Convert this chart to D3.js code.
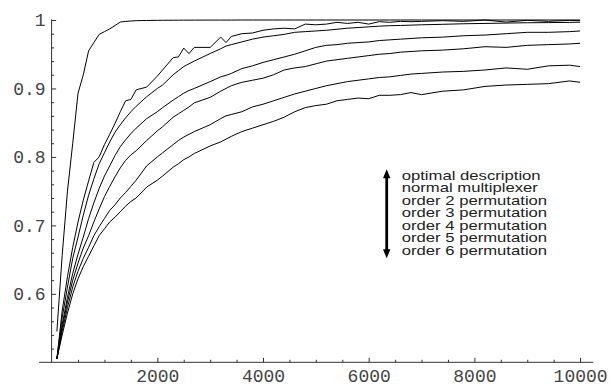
<!DOCTYPE html>
<html>
<head>
<meta charset="utf-8">
<script src="https://cdn.jsdelivr.net/npm/d3@7"></script>
<style>
  html, body { margin: 0; padding: 0; background: #fff; }
  svg { display: block; }
</style>
</head>
<body>
<svg id="chart" width="614" height="387"></svg>
<script>
// ---------- data ----------
const samples = [100,200,300,400,500,600,700,800,900,1000,1100,1200,1300,1400,1500,1600,1800,2000,2100,2300,2400,2500,2600,2700,3000,3200,3300,3400,3600,3800,4000,4200,4400,4600,4800,5000,5200,5400,5600,5800,6000,6200,6400,6600,6800,7000,7400,7800,8200,8600,9000,9400,9800,10000];

const optimalDescription = [0.545,0.656,0.75,0.82,0.893,0.92,0.955,0.967,0.979,0.983,0.987,0.992,0.997,0.998,0.9985,0.999,0.9993,0.9995,0.9996,0.9997,0.9997,0.9998,0.9998,0.9998,0.9999,0.9999,0.9999,0.9999,1,1,1,1,1,1,1,1,1,1,1,1,1,1,1,1,1,1,1,1,1,1,1,1,1,1];

const normalMultiplexer = [0.505,0.575,0.625,0.668,0.705,0.737,0.765,0.792,0.80,0.818,0.833,0.849,0.866,0.882,0.884,0.898,0.902,0.918,0.927,0.945,0.946,0.959,0.951,0.96,0.96,0.975,0.967,0.976,0.98,0.981,0.985,0.987,0.988,0.987,0.994,0.993,0.994,0.9966,0.995,0.9966,0.994,0.9976,0.9966,0.998,0.9975,0.998,0.999,0.998,1.0,0.997,0.9995,0.998,0.9995,0.999];

const order2 = [0.505,0.565,0.61,0.652,0.683,0.715,0.744,0.768,0.79,0.806,0.822,0.836,0.847,0.857,0.866,0.874,0.888,0.900,0.905,0.92,0.926,0.932,0.936,0.940,0.951,0.958,0.962,0.964,0.968,0.972,0.975,0.977,0.979,0.982,0.983,0.984,0.985,0.9865,0.988,0.989,0.99,0.991,0.9917,0.992,0.9925,0.993,0.9937,0.9945,0.995,0.9955,0.996,0.9962,0.9965,0.9968];

const order3 = [0.505,0.555,0.595,0.63,0.658,0.683,0.71,0.733,0.754,0.772,0.787,0.802,0.815,0.825,0.834,0.842,0.856,0.866,0.872,0.883,0.888,0.893,0.897,0.900,0.910,0.917,0.919,0.922,0.929,0.933,0.938,0.942,0.946,0.950,0.955,0.960,0.963,0.964,0.966,0.967,0.968,0.970,0.971,0.972,0.973,0.974,0.975,0.977,0.978,0.98,0.982,0.982,0.983,0.984];

const order4 = [0.505,0.55,0.588,0.62,0.645,0.667,0.685,0.705,0.724,0.742,0.757,0.771,0.784,0.795,0.803,0.809,0.824,0.838,0.844,0.858,0.863,0.868,0.873,0.879,0.887,0.896,0.9,0.904,0.909,0.912,0.915,0.92,0.927,0.93,0.932,0.936,0.94,0.942,0.944,0.946,0.948,0.95,0.951,0.953,0.954,0.955,0.956,0.958,0.961,0.960,0.963,0.964,0.965,0.966];

const order5 = [0.505,0.545,0.58,0.61,0.633,0.652,0.668,0.685,0.698,0.71,0.722,0.73,0.74,0.748,0.757,0.766,0.787,0.80,0.806,0.818,0.824,0.829,0.833,0.837,0.847,0.856,0.86,0.862,0.866,0.873,0.877,0.882,0.887,0.892,0.896,0.9,0.904,0.907,0.91,0.912,0.914,0.916,0.917,0.919,0.921,0.922,0.924,0.925,0.927,0.930,0.928,0.933,0.934,0.932];

const order6 = [0.505,0.54,0.572,0.60,0.622,0.64,0.655,0.67,0.685,0.695,0.705,0.712,0.72,0.728,0.735,0.74,0.756,0.766,0.772,0.785,0.79,0.796,0.80,0.805,0.816,0.822,0.826,0.83,0.837,0.842,0.847,0.852,0.858,0.866,0.872,0.875,0.877,0.882,0.884,0.886,0.885,0.89,0.89,0.891,0.894,0.891,0.896,0.898,0.903,0.905,0.906,0.907,0.911,0.909];

const seriesList = [optimalDescription, normalMultiplexer, order2, order3, order4, order5, order6];
const legendLabels = ["optimal description","normal multiplexer","order 2 permutation","order 3 permutation","order 4 permutation","order 5 permutation","order 6 permutation"];

const xTickValues = [2000,4000,6000,8000,10000];
const xMinorTicks = [500,1000,1500,2500,3000,3500,4500,5000,5500,6500,7000,7500,8500,9000,9500];
const yTickValues = [0.6,0.7,0.8,0.9,1];
const yTickLabels = ["0.6","0.7","0.8","0.9","1"];
const yMinorTicks = [0.52,0.54,0.56,0.58,0.62,0.64,0.66,0.68,0.72,0.74,0.76,0.78,0.82,0.84,0.86,0.88,0.92,0.94,0.96,0.98];

// ---------- drawing ----------
(function () {
const svg = d3.select("#chart");
const x = d3.scaleLinear().domain([0, 10000]).range([51.6, 580.1]);
const y = d3.scaleLinear().domain([0.5, 1]).range([362.3, 20]);
const axisColor = "#333";
const monoFont = "'Liberation Mono', 'Courier New', monospace";

// axis lines
svg.append("line")
  .attr("x1", x(-235)).attr("x2", x(10250))
  .attr("y1", y(0.5)).attr("y2", y(0.5))
  .attr("stroke", axisColor).attr("stroke-width", 1);
svg.append("line")
  .attr("x1", x(0)).attr("x2", x(0))
  .attr("y1", y(0.5)).attr("y2", y(1.001))
  .attr("stroke", axisColor).attr("stroke-width", 1);

// x axis
const gx = svg.append("g").attr("transform", `translate(0,${y(0.5)})`)
  .call(d3.axisBottom(x).tickValues(xTickValues).tickFormat(d3.format("d"))
        .tickSizeInner(-4.5).tickSizeOuter(0).tickPadding(7));
gx.select(".domain").remove();
gx.selectAll(".tick line").attr("stroke", axisColor);
gx.selectAll(".tick text").attr("font-family", monoFont).attr("font-size", 18).attr("fill", "#444");

const gxm = svg.append("g").attr("transform", `translate(0,${y(0.5)})`)
  .call(d3.axisBottom(x).tickValues(xMinorTicks).tickFormat("").tickSizeInner(-2.5).tickSizeOuter(0));
gxm.select(".domain").remove();
gxm.selectAll(".tick line").attr("stroke", axisColor);

// y axis
const gy = svg.append("g").attr("transform", `translate(${x(0)},0)`)
  .call(d3.axisLeft(y).tickValues(yTickValues).tickFormat((d, i) => yTickLabels[i])
        .tickSizeInner(-4.5).tickSizeOuter(0).tickPadding(6));
gy.select(".domain").remove();
gy.selectAll(".tick line").attr("stroke", axisColor);
gy.selectAll(".tick text").attr("font-family", monoFont).attr("font-size", 18).attr("fill", "#444");

const gym = svg.append("g").attr("transform", `translate(${x(0)},0)`)
  .call(d3.axisLeft(y).tickValues(yMinorTicks).tickFormat("").tickSizeInner(-2.5).tickSizeOuter(0));
gym.select(".domain").remove();
gym.selectAll(".tick line").attr("stroke", axisColor);

// lines
const line = d3.line().x((d, i) => x(samples[i])).y(d => y(d));
svg.append("g").selectAll("path").data(seriesList).join("path")
  .attr("d", d => line(d))
  .attr("fill", "none")
  .attr("stroke", "#000")
  .attr("stroke-width", 1)
  .attr("stroke-linejoin", "round");

// legend
const lg = svg.append("g");
const ax = 386.7, arrowTop = 169.3, arrowBot = 258.3;
lg.append("line").attr("x1", ax).attr("x2", ax).attr("y1", arrowTop + 6).attr("y2", arrowBot - 6)
  .attr("stroke", "#000").attr("stroke-width", 2.8);
lg.append("path").attr("d", `M${ax},${arrowTop} L${ax - 3.7},${arrowTop + 9} L${ax + 3.7},${arrowTop + 9} Z`).attr("fill", "#000");
lg.append("path").attr("d", `M${ax},${arrowBot} L${ax - 3.7},${arrowBot - 9} L${ax + 3.7},${arrowBot - 9} Z`).attr("fill", "#000");

const tx = 401.7;
const lt = lg.append("g").attr("transform", `translate(${tx},0) scale(1.39,1)`);
lt.selectAll("text").data(legendLabels).join("text")
  .attr("x", 0)
  .attr("y", (d, i) => 175.7 + i * 12.5)
  .attr("dy", "0.35em")
  .attr("font-family", "'Liberation Sans', Arial, Helvetica, sans-serif")
  .attr("font-size", 12)
  .attr("fill", "#222")
  .text(d => d);
})();
</script>
</body>
</html>
